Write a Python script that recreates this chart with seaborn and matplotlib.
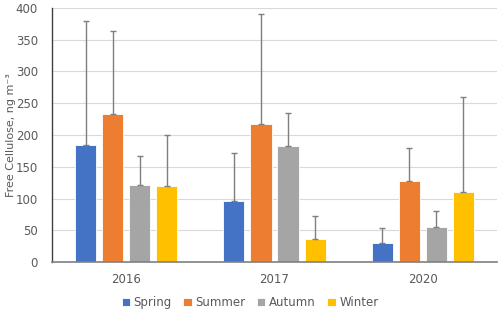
import pandas as pd
import matplotlib.pyplot as plt
import numpy as np
import seaborn as sns

years = ['2016', '2017', '2020']
seasons = ['Spring', 'Summer', 'Autumn', 'Winter']
colors = ['#4472C4', '#ED7D31', '#A5A5A5', '#FFC000']

spring = [185, 96, 30]
summer = [233, 217, 128]
autumn = [121, 183, 55]
winter = [120, 36, 111]

spring_err = [194, 76, 23]
summer_err = [131, 173, 51]
autumn_err = [46, 51, 26]
winter_err = [80, 36, 149]

vals = [spring, summer, autumn, winter]
errs = [spring_err, summer_err, autumn_err, winter_err]

rows = []
for s, v in zip(seasons, vals):
    for y, val in zip(years, v):
        rows.append({'year': y, 'season': s, 'value': val})
df = pd.DataFrame(rows)

sns.set_style('white')
plt.rcParams['font.family'] = ['DejaVu Sans']
fig = plt.figure(figsize=(5, 3.15), dpi=100)
ax = fig.add_axes([0.104, 0.168, 0.89, 0.807])

ax.yaxis.grid(True, color='#D9D9D9', linewidth=0.8)
ax.set_axisbelow(True)

sns.barplot(data=df, x='year', y='value', hue='season', order=years,
            hue_order=seasons, palette=colors, width=0.73, gap=0.22,
            errorbar=None, edgecolor='white', linewidth=0.6, saturation=1,
            ax=ax)

# upward-only error bars, one container per season
for cont, e in zip(ax.containers, errs):
    xs = [p.get_x() + p.get_width() / 2 for p in cont]
    hs = [p.get_height() for p in cont]
    ax.errorbar(xs, hs, yerr=[np.zeros(len(e)), e], fmt='none',
                ecolor='#7F7F7F', elinewidth=1, capsize=2.5, capthick=1)

ax.set_ylim(0, 400)
ax.set_xlim(-0.5, 2.5)
ax.set_yticks(range(0, 401, 50))
ax.set_xlabel('')
ax.set_ylabel('Free Cellulose, ng m\u207b\u00b3', color='#595959', fontsize=8)
ax.yaxis.set_label_coords(-0.08, 0.5)
ax.tick_params(axis='both', length=0, colors='#595959', labelsize=8.5)
ax.tick_params(axis='x', pad=8)
ax.tick_params(axis='y', pad=10)
for sp in ['top', 'right']:
    ax.spines[sp].set_visible(False)
ax.spines['left'].set_color('#404040')
ax.spines['left'].set_linewidth(1)
ax.spines['bottom'].set_color('#808080')
ax.spines['bottom'].set_linewidth(1.2)

ax.legend(loc='center', bbox_to_anchor=(0.445, -0.16), ncol=4,
          frameon=False, fontsize=8.5, handlelength=0.7, handleheight=0.7,
          handletextpad=0.3, columnspacing=1.0, labelcolor='#595959',
          borderpad=0)

fig.savefig('out.png', dpi=100)
